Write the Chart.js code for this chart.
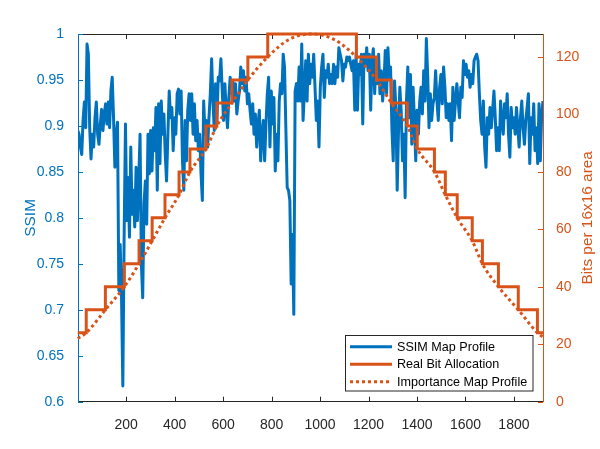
<!DOCTYPE html>
<html>
<head>
<meta charset="utf-8">
<script src="https://cdn.jsdelivr.net/npm/chart.js@4.4.1/dist/chart.umd.min.js"></script>
<style>
html, body { margin: 0; padding: 0; background: #fff; }
#wrap { width: 600px; height: 449px; }
</style>
</head>
<body>
<div id="wrap"><canvas id="ssimChart"></canvas></div>
<script>
// SSIM profile, sampled along the frame width
const ssimStart = 0;
const ssimStep = 5.47;
const ssimValues = [
  0.895, 0.891, 0.877, 0.869, 0.906, 0.926, 0.898, 0.989, 0.978, 0.898,
  0.864, 0.891, 0.877, 0.909, 0.926, 0.891, 0.880, 0.902, 0.918, 0.895,
  0.913, 0.924, 0.902, 0.926, 0.898, 0.938, 0.953, 0.909, 0.855, 0.891,
  0.904, 0.721, 0.771, 0.717, 0.617, 0.782, 0.902, 0.797, 0.844, 0.779,
  0.877, 0.804, 0.830, 0.790, 0.855, 0.797, 0.840, 0.891, 0.750, 0.713,
  0.815, 0.840, 0.793, 0.891, 0.848, 0.895, 0.851, 0.898, 0.873, 0.920,
  0.830, 0.924, 0.859, 0.927, 0.891, 0.913, 0.869, 0.840, 0.891, 0.938,

  0.909, 0.920, 0.873, 0.909, 0.891, 0.935, 0.940, 0.913, 0.938, 0.862,
  0.830, 0.906, 0.862, 0.917, 0.935, 0.906, 0.935, 0.891, 0.924, 0.884,
  0.906, 0.873, 0.891, 0.848, 0.819, 0.927, 0.891, 0.906, 0.877, 0.909,
  0.935, 0.973, 0.927, 0.895, 0.946, 0.906, 0.953, 0.949, 0.973, 0.938,
  0.906, 0.946, 0.917, 0.898, 0.931, 0.953, 0.935, 0.949, 0.927, 0.946,
  0.913, 0.927, 0.938, 0.964, 0.946, 0.960, 0.938, 0.953, 0.924, 0.935,
  0.917, 0.902, 0.924, 0.891, 0.913, 0.877, 0.902, 0.917, 0.862, 0.891,

  0.906, 0.862, 0.902, 0.935, 0.953, 0.877, 0.938, 0.902, 0.931, 0.851,
  0.891, 0.862, 0.927, 0.946, 0.935, 0.978, 0.964, 0.898, 0.833, 0.830,
  0.819, 0.728, 0.782, 0.695, 0.938, 0.946, 0.927, 0.964, 0.927, 0.989,
  0.906, 0.938, 0.971, 0.927, 0.978, 0.946, 0.967, 0.953, 0.978, 0.942,
  0.906, 0.927, 0.877, 0.942, 0.964, 0.978, 0.931, 0.960, 0.953, 0.967,
  0.946, 0.956, 0.946, 0.967, 0.946, 0.964, 0.953, 0.985, 0.978, 0.971,
  0.949, 0.967, 0.964, 0.975, 0.971, 0.975, 0.967, 0.960, 0.971, 0.917,

  0.978, 0.917, 0.967, 0.956, 0.978, 0.902, 0.978, 0.967, 0.985, 0.960,
  0.978, 0.917, 0.971, 0.984, 0.935, 0.971, 0.946, 0.978, 0.935, 0.960,
  0.927, 0.946, 0.982, 0.935, 0.985, 0.953, 0.964, 0.898, 0.862, 0.949,
  0.920, 0.830, 0.895, 0.942, 0.917, 0.862, 0.891, 0.822, 0.927, 0.964,
  0.909, 0.956, 0.880, 0.942, 0.906, 0.862, 0.917, 0.891, 0.927, 0.942,
  0.913, 0.960, 0.927, 0.995, 0.956, 0.898, 0.935, 0.906, 0.924, 0.931,
  0.960, 0.927, 0.906, 0.942, 0.956, 0.924, 0.964, 0.942, 0.909, 0.924,

  0.906, 0.924, 0.884, 0.942, 0.906, 0.927, 0.946, 0.927, 0.909, 0.942,
  0.931, 0.971, 0.956, 0.967, 0.953, 0.960, 0.942, 0.956, 0.946, 0.971,
  0.975, 0.978, 0.971, 0.935, 0.906, 0.891, 0.927, 0.877, 0.855, 0.909,
  0.891, 0.920, 0.898, 0.917, 0.938, 0.909, 0.873, 0.898, 0.873, 0.927,
  0.906, 0.891, 0.924, 0.909, 0.935, 0.891, 0.866, 0.920, 0.898, 0.909,
  0.891, 0.920, 0.898, 0.877, 0.909, 0.927, 0.898, 0.880, 0.906, 0.920,
  0.935, 0.859, 0.909, 0.891, 0.924, 0.873, 0.898, 0.859, 0.924, 0.862,
  0.913, 0.927
];

// real bit allocation: level starts at each edge
const bitEdges = [0, 35, 114, 192, 253, 307, 360, 418, 463, 529, 574, 636, 702, 784,
  1150, 1233, 1294, 1360, 1401, 1472, 1517, 1566, 1628, 1670, 1736, 1818, 1897, 1920];
const bitLevels = [24, 32, 40, 48, 56, 64, 72, 80, 88, 96, 104, 112, 120, 128,
  120, 112, 104, 96, 88, 80, 72, 64, 56, 48, 40, 32, 24, 24];

// importance map profile
const impX = [0, 35, 114, 192, 253, 307, 360, 418, 463, 529, 574, 636, 702, 784, 870, 966,
  1060, 1150, 1233, 1294, 1360, 1401, 1472, 1517, 1566, 1628, 1670, 1736, 1818, 1897, 1920];
const impBits = [22, 24, 32, 40, 48, 56, 64, 72, 80, 88, 96, 104, 112, 120, 126, 128,
  126, 120, 112, 104, 96, 88, 80, 72, 64, 56, 48, 40, 32, 24, 22.5];

const xTicks = [200, 400, 600, 800, 1000, 1200, 1400, 1600, 1800];
const ssimTicks = [0.6, 0.65, 0.7, 0.75, 0.8, 0.85, 0.9, 0.95, 1];
const bitTicks = [0, 20, 40, 60, 80, 100, 120];

const BLUE = '#0072BD';
const ORANGE = '#D95319';
const AXIS = '#262626';
const FONT = "'Liberation Sans', Arial, sans-serif";

const matlabFrame = {
  id: 'matlabFrame',
  beforeDatasetsDraw(chart) {
    const {ctx, chartArea: a, scales} = chart;
    ctx.save();
    ctx.lineWidth = 1;
    ctx.strokeStyle = AXIS;
    ctx.beginPath();
    ctx.moveTo(a.left, a.top + 0.5);
    ctx.lineTo(a.right, a.top + 0.5);
    xTicks.forEach(v => {
      let px = Math.round(scales.x.getPixelForValue(v)) + 0.5;
      ctx.moveTo(px, a.bottom);
      ctx.lineTo(px, a.bottom - 5);
      ctx.moveTo(px, a.top);
      ctx.lineTo(px, a.top + 5);
    });
    ctx.stroke();

    ctx.strokeStyle = BLUE;
    ctx.beginPath();
    ssimTicks.forEach(v => {
      let py = Math.round(scales.y.getPixelForValue(v)) + 0.5;
      ctx.moveTo(a.left, py);
      ctx.lineTo(a.left + 5, py);
    });
    ctx.stroke();

    ctx.strokeStyle = ORANGE;
    ctx.beginPath();
    bitTicks.forEach(v => {
      let py = Math.round(scales.y1.getPixelForValue(v)) + 0.5;
      ctx.moveTo(a.right, py);
      ctx.lineTo(a.right - 5, py);
    });
    ctx.stroke();
    ctx.restore();
  },
  afterDatasetsDraw(chart) {
    const {ctx} = chart;
    let bx = 345.5, by = 335.5, bw = 187.5, bh = 55.5;
    ctx.save();
    ctx.fillStyle = '#fff';
    ctx.fillRect(bx, by, bw, bh);
    ctx.strokeStyle = AXIS;
    ctx.lineWidth = 1;
    ctx.strokeRect(bx, by, bw, bh);
    ctx.font = '12.6px ' + FONT;
    ctx.textBaseline = 'middle';
    ctx.textAlign = 'left';
    chart.data.datasets.forEach((ds, i) => {
      let ry = by + 11.2 + i * 17.5;
      ctx.strokeStyle = ds.borderColor;
      ctx.lineWidth = ds.borderWidth;
      ctx.setLineDash(ds.borderDash || []);
      ctx.beginPath();
      ctx.moveTo(bx + 4.5, ry);
      ctx.lineTo(bx + 46.5, ry);
      ctx.stroke();
      ctx.setLineDash([]);
      ctx.fillStyle = '#000';
      ctx.fillText(ds.label, bx + 51.5, ry + 0.5);
    });
    ctx.restore();
  },
  afterDraw(chart) {
    const {ctx, chartArea: a} = chart;
    let cy = (a.top + a.bottom) / 2;
    ctx.save();
    ctx.font = '15.4px ' + FONT;
    ctx.textAlign = 'center';
    ctx.textBaseline = 'middle';
    ctx.fillStyle = BLUE;
    ctx.translate(31, cy);
    ctx.rotate(-Math.PI / 2);
    ctx.fillText('SSIM', 0, 0);
    ctx.restore();

    ctx.save();
    ctx.font = '15.4px ' + FONT;
    ctx.textAlign = 'center';
    ctx.textBaseline = 'middle';
    ctx.fillStyle = ORANGE;
    ctx.translate(588, cy);
    ctx.rotate(-Math.PI / 2);
    ctx.fillText('Bits per 16x16 area', 0, 0);
    ctx.restore();
  }
};

let ctx = document.getElementById('ssimChart').getContext('2d');
new Chart(ctx, {
  type: 'line',
  data: {
    datasets: [
      {
        label: 'SSIM Map Profile',
        data: ssimValues.map((v, i) => ({x: ssimStart + i * ssimStep, y: v})),
        yAxisID: 'y',
        borderColor: BLUE,
        borderWidth: 3,
        borderJoinStyle: 'round',
        pointRadius: 0,
        tension: 0,
        order: 2
      },
      {
        label: 'Real Bit Allocation',
        data: bitEdges.map((x, i) => ({x: x, y: bitLevels[i]})),
        yAxisID: 'y1',
        borderColor: ORANGE,
        borderWidth: 3,
        pointRadius: 0,
        stepped: 'before',
        clip: 4,
        order: 1
      },
      {
        label: 'Importance Map Profile',
        data: impX.map((x, i) => ({x: x, y: impBits[i]})),
        yAxisID: 'y1',
        borderColor: ORANGE,
        borderWidth: 3,
        borderDash: [3, 3],
        pointRadius: 0,
        cubicInterpolationMode: 'monotone',
        clip: 4,
        order: 0
      }
    ]
  },
  options: {
    responsive: true,
    maintainAspectRatio: false,
    animation: false,
    layout: { padding: { top: 34, left: 0, right: 0, bottom: 0 } },
    plugins: {
      legend: { display: false },
      tooltip: { enabled: false }
    },
    scales: {
      x: {
        type: 'linear',
        min: 1,
        max: 1920,
        afterBuildTicks: s => { s.ticks = xTicks.map(v => ({value: v})); },
        afterFit: s => { s.height = 47.3; },
        grid: { display: false },
        border: { display: true, color: AXIS, width: 1 },
        ticks: {
          color: AXIS, font: { family: FONT, size: 14 }, padding: 7, maxRotation: 0, autoSkip: false,
          callback: v => String(v)
        }
      },
      y: {
        position: 'left',
        min: 0.6,
        max: 1,
        afterBuildTicks: s => { s.ticks = ssimTicks.map(v => ({value: v})); },
        afterFit: s => { s.width = 78; },
        grid: { display: false },
        border: { display: true, color: BLUE, width: 1 },
        ticks: {
          color: BLUE, font: { family: FONT, size: 14 }, padding: 6,
          callback: v => String(+v.toFixed(2))
        }
      },
      y1: {
        position: 'right',
        min: 0,
        max: 128,
        afterBuildTicks: s => { s.ticks = bitTicks.map(v => ({value: v})); },
        afterFit: s => { s.width = 57; },
        grid: { display: false },
        border: { display: true, color: ORANGE, width: 1 },
        ticks: { color: ORANGE, font: { family: FONT, size: 14 }, padding: 5 }
      }
    }
  },
  plugins: [matlabFrame]
});
</script>
</body>
</html>
